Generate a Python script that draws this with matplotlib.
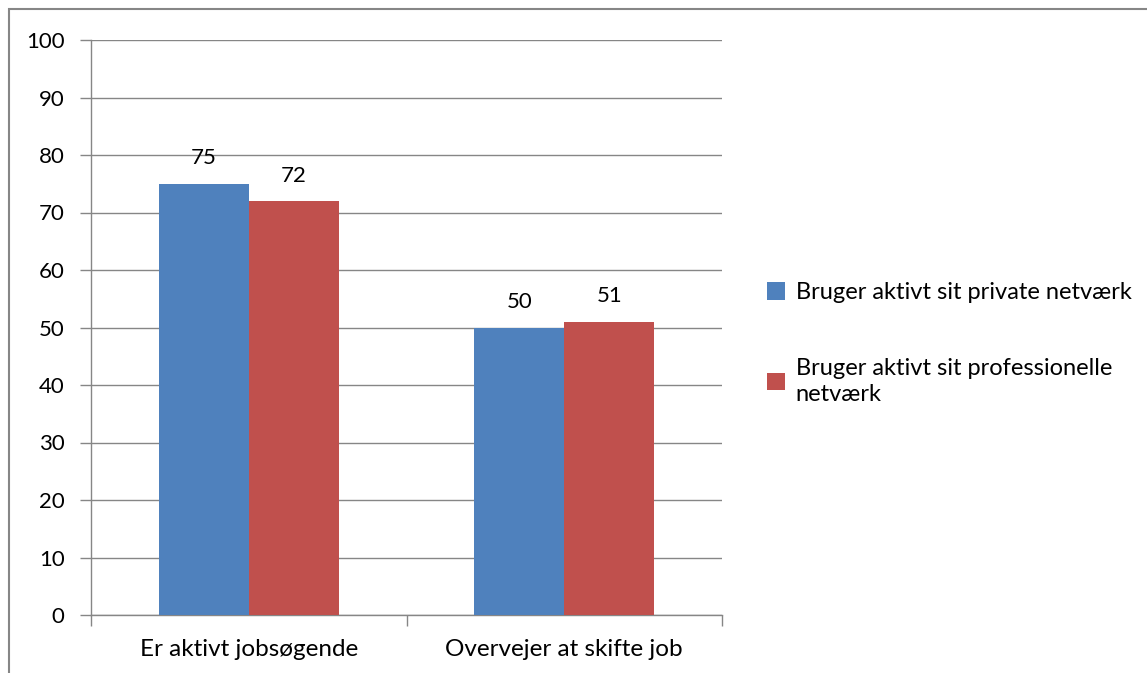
import matplotlib.pyplot as plt
import numpy as np
from matplotlib.patches import Rectangle

categories = ['Er aktivt jobsøgende', 'Overvejer at skifte job']
series_names = ['Bruger aktivt sit private netværk',
                'Bruger aktivt sit professionelle\nnetværk']
private_vals = [75, 50]
professional_vals = [72, 51]
colors = ['#4F81BD', '#C0504D']

plt.rcParams['font.family'] = ['Lato', 'DejaVu Sans']
plt.rcParams['font.size'] = 16

W, H = 1147, 673
fig = plt.figure(figsize=(W / 100, H / 100), dpi=100)

# outer chart frame (open at right and bottom)
fig.patches.append(Rectangle((9 / W, -0.1), 1.2, 1.1 - 9 / H, transform=fig.transFigure,
                             fill=False, edgecolor='#868686', linewidth=1.5))

ax = fig.add_axes([91 / W, 1 - 615 / H, (722 - 91) / W, (615 - 40) / H])

x = np.arange(len(categories))
w = 0.285
b1 = ax.bar(x - w / 2, private_vals, w, color=colors[0], label=series_names[0], zorder=3)
b2 = ax.bar(x + w / 2, professional_vals, w, color=colors[1], label=series_names[1], zorder=3)
ax.bar_label(b1, padding=11, fontsize=16)
ax.bar_label(b2, padding=11, fontsize=16)

ax.set_xlim(-0.5, 1.5)
ax.set_ylim(0, 100)
ax.set_yticks(range(0, 101, 10))
ax.yaxis.grid(True, color='#868686', linewidth=1, zorder=0)
ax.set_axisbelow(True)

ax.set_xticks(x)
ax.set_xticklabels(categories, fontsize=17.5)
ax.set_xticks([-0.5, 0.5, 1.5], minor=True)
ax.tick_params(axis='x', which='major', length=0, pad=17)
ax.tick_params(axis='x', which='minor', length=8, color='#868686', width=1)
ax.tick_params(axis='y', length=8, color='#868686', width=1, pad=11)

for s in ['top', 'right']:
    ax.spines[s].set_visible(False)
for s in ['left', 'bottom']:
    ax.spines[s].set_color('#868686')
    ax.spines[s].set_linewidth(1)

leg = fig.legend(loc='upper left', bbox_to_anchor=(746 / W, 1 - 261 / H), frameon=False,
                 handlelength=0.75, handleheight=0.75, handletextpad=0.45,
                 labelspacing=2.3, fontsize=17)
for t in leg.get_texts():
    t.set_linespacing(1.3)

fig.savefig('out.png', dpi=100)
